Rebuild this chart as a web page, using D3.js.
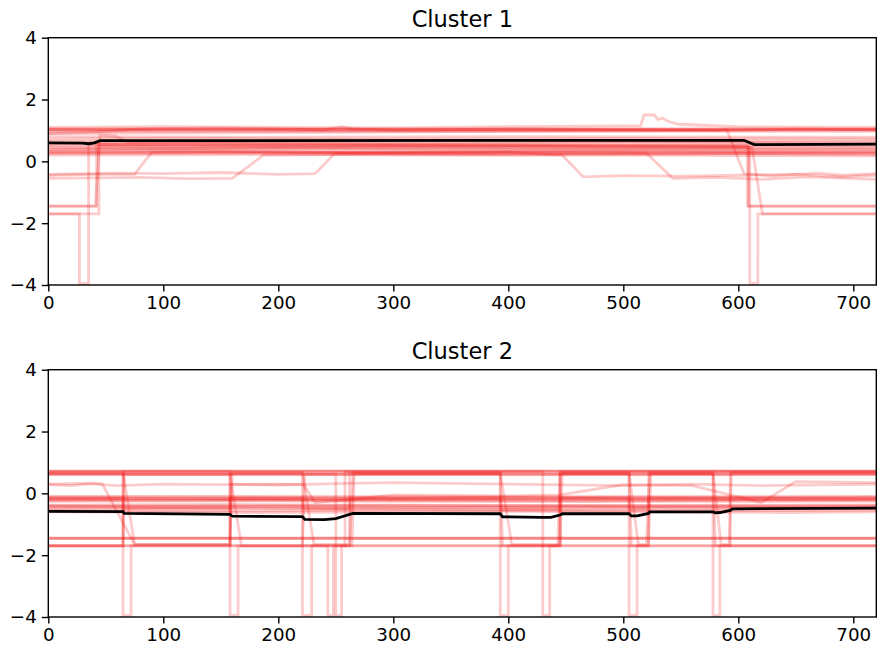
<!DOCTYPE html>
<html>
<head>
<meta charset="utf-8">
<script src="https://cdn.jsdelivr.net/npm/d3@7"></script>
<style>
  body { margin: 0; background: #fff; }
  text { font-family: "DejaVu Sans", sans-serif; fill: #000; }
</style>
</head>
<body>
<div id="plot"></div>
<script>
const xTicks = [0, 100, 200, 300, 400, 500, 600, 700];
const yTicks = [-4, -2, 0, 2, 4];
const titles = ["Cluster 1", "Cluster 2"];

// each series is a list of [x, value] breakpoints
const cluster1 = [
  [[0, 1.05], [720, 1.05]],
  [[0, 1.04], [720, 1.04]],
  [[0, 1.03], [720, 1.03]],
  [[0, 1.0], [720, 1.01]],
  [[0, 0.97], [720, 0.97]],
  [[0, 0.9], [40, 0.95], [80, 1.05], [150, 1.08], [200, 1.05], [240, 1.02], [255, 1.12], [265, 1.05], [300, 1.0], [400, 1.05], [500, 1.02], [600, 1.0], [650, 1.05], [720, 1.02]],
  [[0, 1.1], [100, 1.12], [200, 1.1], [300, 1.08], [400, 1.12], [500, 1.15], [515, 1.15], [518, 1.5], [527, 1.5], [530, 1.35], [534, 1.4], [540, 1.28], [548, 1.2], [600, 1.12], [720, 1.1]],
  [[0, 0.8], [200, 0.78], [400, 0.8], [720, 0.78]],
  [[0, 0.72], [100, 0.75], [300, 0.72], [500, 0.74], [720, 0.72]],
  [[0, -1.45], [41, -1.45], [45, 0.85], [58, 0.82], [70, 0.6], [300, 0.55], [609, 0.5], [609, -1.45], [720, -1.45]],
  [[0, -1.45], [42, -1.45], [42, 0.55], [300, 0.52], [608, 0.5], [608, -1.45], [720, -1.45]],
  [[0, -1.7], [27, -1.7], [27, -3.95], [35, -3.95], [35, 0.55], [200, 0.5], [400, 0.5], [610, 0.45], [610, -3.95], [617, -3.95], [617, -1.7], [720, -1.7]],
  [[0, -1.7], [44, -1.7], [44, 0.5], [300, 0.45], [612, 0.45], [621, -1.7], [720, -1.7]],
  [[0, -0.45], [40, -0.42], [75, -0.42], [90, 0.3], [150, 0.32], [300, 0.28], [500, 0.3], [720, 0.28]],
  [[0, -0.55], [80, -0.52], [120, -0.56], [160, -0.55], [187, 0.2], [250, 0.22], [400, 0.2], [600, 0.25], [720, 0.22]],
  [[0, -0.42], [60, -0.38], [100, -0.4], [150, -0.36], [200, -0.42], [232, -0.4], [249, 0.25], [400, 0.3], [447, 0.2], [465, -0.5], [500, -0.46], [550, -0.48], [600, -0.45], [650, -0.42], [690, -0.5], [720, -0.45]],
  [[0, 0.3], [200, 0.28], [400, 0.3], [520, 0.27], [543, -0.55], [580, -0.52], [620, -0.58], [660, -0.5], [720, -0.58]],
  [[0, 0.9], [300, 0.95], [585, 1.0], [590, 1.02], [605, -0.4], [630, -0.47], [650, -0.42], [670, -0.38], [690, -0.45], [720, -0.4]],
  [[0, 0.55], [150, 0.58], [350, 0.55], [550, 0.57], [720, 0.55]],
  [[0, 0.5], [100, 0.48], [250, 0.52], [450, 0.49], [720, 0.51]],
  [[0, 0.45], [120, 0.42], [300, 0.46], [500, 0.43], [720, 0.45]],
  [[0, 0.4], [200, 0.42], [450, 0.39], [720, 0.41]],
  [[0, 0.38], [200, 0.4], [400, 0.36], [720, 0.38]],
  [[0, 0.32], [100, 0.35], [250, 0.3], [450, 0.34], [720, 0.32]],
  [[0, 0.28], [180, 0.3], [380, 0.27], [720, 0.3]],
  [[0, 0.25], [150, 0.27], [350, 0.24], [720, 0.26]],
  [[0, 0.2], [200, 0.22], [500, 0.2], [720, 0.18]],
  [[0, 0.6], [100, 0.62], [300, 0.6], [500, 0.63], [720, 0.6]],
  [[0, 0.65], [720, 0.65]]
];
const cluster1Mean = [[0, 0.6], [30, 0.59], [35, 0.57], [40, 0.6], [45, 0.67], [605, 0.68], [610, 0.6], [614, 0.54], [720, 0.56]];

const cluster2 = [
  [[0, 0.72], [720, 0.72]],
  [[0, 0.72], [720, 0.72]],
  [[0, 0.71], [720, 0.71]],
  [[0, 0.62], [720, 0.62]],
  [[0, 0.62], [720, 0.62]],
  [[0, 0.61], [720, 0.61]],
  [[0, 0.65], [65, 0.65], [65, -3.95], [72, -3.95], [72, -1.7], [158, -1.7], [158, 0.65], [221, 0.65], [221, -3.95], [229, -3.95], [229, -1.7], [262, -1.7], [262, 0.65], [393, 0.65], [393, -3.95], [400, -3.95], [400, -1.7], [445, -1.7], [445, 0.65], [505, 0.65], [505, -3.95], [512, -3.95], [512, -1.7], [522, -1.7], [522, 0.65], [578, 0.65], [578, -3.95], [584, -3.95], [584, -1.7], [593, -1.7], [593, 0.65], [720, 0.65]],
  [[0, -1.7], [65, -1.7], [65, 0.7], [158, 0.7], [158, -3.95], [165, -3.95], [165, -1.7], [243, -1.7], [243, -3.95], [248, -3.95], [248, -1.7], [258, -1.7], [258, 0.7], [430, 0.7], [430, -3.95], [436, -3.95], [436, -1.7], [445, -1.7], [445, 0.7], [720, 0.7]],
  [[0, 0.68], [65, 0.68], [75, -1.65], [158, -1.65], [160, 0.68], [221, 0.68], [231, -1.65], [262, -1.65], [265, 0.68], [393, 0.68], [403, -1.65], [445, -1.65], [447, 0.68], [505, 0.68], [513, -1.65], [520, -1.65], [523, 0.68], [578, 0.68], [585, -1.65], [592, -1.65], [594, 0.68], [720, 0.68]],
  [[0, -1.7], [65, -1.7], [66, 0.62], [158, 0.62], [168, -1.7], [221, -1.7], [223, 0.62], [250, 0.62], [250, -3.95], [255, -3.95], [255, -1.7], [264, -1.7], [266, 0.62], [393, 0.62], [395, -1.7], [443, -1.7], [445, 0.62], [505, 0.62], [507, -1.7], [522, -1.7], [524, 0.62], [578, 0.62], [580, -1.7], [720, -1.7]],
  [[0, -0.15], [65, -0.15], [65, -0.5], [158, -0.5], [158, -0.15], [221, -0.15], [221, -0.5], [262, -0.5], [262, -0.15], [393, -0.15], [393, -0.5], [445, -0.5], [445, -0.15], [505, -0.15], [505, -0.5], [522, -0.5], [522, -0.15], [720, -0.15]],
  [[0, -1.45], [720, -1.45]],
  [[0, -1.45], [720, -1.45]],
  [[0, -1.46], [720, -1.46]],
  [[0, -1.7], [720, -1.7]],
  [[0, -1.69], [720, -1.69]],
  [[0, 0.28], [20, 0.25], [40, 0.33], [47, 0.3], [75, -1.65], [158, -1.65], [159, 0.3], [200, 0.27], [260, 0.32], [300, 0.35], [400, 0.3], [500, 0.25], [560, 0.3], [620, 0.25], [720, 0.3]],
  [[0, 0.3], [30, 0.32], [60, 0.25], [100, 0.3], [150, 0.28], [200, 0.3], [222, 0.28], [232, -0.3], [262, -0.2], [300, -0.05], [400, -0.08], [445, -0.05], [500, 0.28], [560, 0.25], [620, -0.3], [650, 0.38], [720, 0.35]],
  [[0, -0.1], [150, -0.12], [300, -0.1], [500, -0.13], [720, -0.1]],
  [[0, -0.12], [150, -0.1], [300, -0.14], [500, -0.1], [720, -0.12]],
  [[0, -0.16], [200, -0.18], [400, -0.15], [720, -0.17]],
  [[0, -0.18], [120, -0.16], [330, -0.19], [720, -0.18]],
  [[0, -0.2], [250, -0.22], [450, -0.19], [720, -0.21]],
  [[0, -0.23], [220, -0.21], [470, -0.24], [720, -0.22]],
  [[0, -0.26], [180, -0.24], [380, -0.27], [720, -0.25]],
  [[0, -0.38], [160, -0.36], [360, -0.4], [720, -0.37]],
  [[0, -0.4], [120, -0.42], [300, -0.38], [520, -0.41], [720, -0.4]],
  [[0, -0.43], [140, -0.41], [340, -0.45], [720, -0.42]],
  [[0, -0.45], [200, -0.47], [420, -0.44], [720, -0.46]],
  [[0, -0.5], [150, -0.48], [350, -0.52], [600, -0.5], [720, -0.49]],
  [[0, -0.55], [100, -0.58], [300, -0.54], [500, -0.57], [720, -0.55]],
  [[0, -0.6], [180, -0.62], [400, -0.58], [640, -0.62], [720, -0.6]]
];
const cluster2Mean = [[0, -0.58], [65, -0.59], [66, -0.65], [158, -0.68], [160, -0.74], [221, -0.75], [223, -0.84], [240, -0.85], [250, -0.82], [256, -0.75], [262, -0.68], [265, -0.65], [393, -0.66], [395, -0.76], [430, -0.78], [437, -0.78], [445, -0.7], [447, -0.66], [505, -0.66], [507, -0.73], [512, -0.73], [522, -0.65], [523, -0.6], [578, -0.6], [580, -0.63], [584, -0.62], [593, -0.55], [595, -0.5], [720, -0.48]];

const width = 879, height = 654;
const left = 48.3, right = 876.3;
const panels = [
  { title: titles[0], series: cluster1, mean: cluster1Mean, top: 37.7, bottom: 285 },
  { title: titles[1], series: cluster2, mean: cluster2Mean, top: 369.7, bottom: 617 }
];

const svg = d3.select("#plot").append("svg")
  .attr("width", width)
  .attr("height", height);

const x = d3.scaleLinear().domain([0, 720]).range([left, right]);

panels.forEach((p, i) => {
  const y = d3.scaleLinear().domain([-4, 4]).range([p.bottom, p.top]);
  const line = d3.line().x(d => x(d[0])).y(d => y(d[1]));

  svg.append("clipPath").attr("id", "clip" + i)
    .append("rect")
    .attr("x", left).attr("y", p.top)
    .attr("width", right - left).attr("height", p.bottom - p.top);

  const g = svg.append("g").attr("clip-path", `url(#clip${i})`);

  g.selectAll("path.s")
    .data(p.series)
    .enter()
    .append("path")
    .attr("class", "s")
    .attr("d", line)
    .attr("fill", "none")
    .attr("stroke", "#f01010")
    .attr("stroke-opacity", 0.22)
    .attr("stroke-width", 2.8);

  g.append("path")
    .attr("d", line(p.mean))
    .attr("fill", "none")
    .attr("stroke", "black")
    .attr("stroke-width", 2.8);

  const xAxis = svg.append("g")
    .attr("transform", `translate(0, ${p.bottom})`)
    .call(d3.axisBottom(x).tickValues(xTicks).tickSize(6.5).tickPadding(5).tickFormat(d3.format("d")));

  const yAxis = svg.append("g")
    .attr("transform", `translate(${left}, 0)`)
    .call(d3.axisLeft(y).tickValues(yTicks).tickSize(6.5).tickPadding(5).tickFormat(d => d < 0 ? "\u2212" + Math.abs(d) : d));

  [xAxis, yAxis].forEach(a => {
    a.select(".domain").remove();
    a.selectAll("line").attr("stroke", "#000").attr("stroke-width", 1.4);
    a.selectAll("text").attr("font-size", 18.3).attr("font-family", "DejaVu Sans").attr("fill", "#000");
  });

  svg.append("rect")
    .attr("x", left).attr("y", p.top)
    .attr("width", right - left).attr("height", p.bottom - p.top)
    .attr("fill", "none")
    .attr("stroke", "#000")
    .attr("stroke-width", 1.4);

  svg.append("text")
    .attr("x", (left + right) / 2)
    .attr("y", p.top - 11)
    .attr("text-anchor", "middle")
    .attr("font-size", 22.5)
    .text(p.title);
});
</script>
</body>
</html>
